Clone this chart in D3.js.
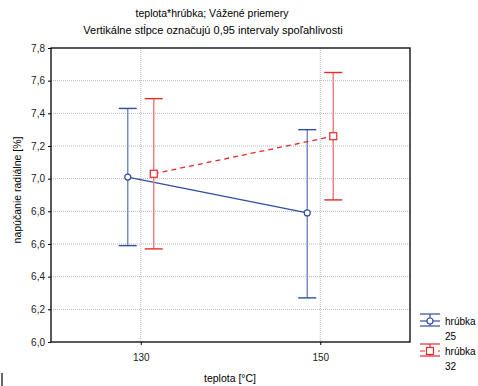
<!DOCTYPE html>
<html>
<head>
<meta charset="utf-8">
<script src="https://cdn.jsdelivr.net/npm/d3@7"></script>
<style>
  body { margin: 0; background: #fff; }
  svg { display: block; font-family: "Liberation Sans", Arial, sans-serif; }
</style>
</head>
<body>
<div id="chart"></div>
<script>
const categories = ['130', '150'];
const yTicks = [6.0, 6.2, 6.4, 6.6, 6.8, 7.0, 7.2, 7.4, 7.6, 7.8];
const series = ['25', '32'];
const mean25 = [7.01, 6.79];
const lower25 = [6.59, 6.27];
const upper25 = [7.43, 7.30];
const mean32 = [7.03, 7.26];
const lower32 = [6.57, 6.87];
const upper32 = [7.49, 7.65];

const width = 478, height = 386;
const margin = { top: 48, right: 68, bottom: 44, left: 51 };

const svg = d3.select('#chart').append('svg')
  .attr('width', width)
  .attr('height', height);

const x = d3.scalePoint().domain(categories)
  .range([margin.left, width - margin.right]).padding(0.5);
const y = d3.scaleLinear().domain([6.0, 7.8])
  .range([height - margin.bottom, margin.top]);
const offset = d3.scaleOrdinal().domain(series).range([-13, 13]);
const color = d3.scaleOrdinal().domain(series).range(['#2f4f9f', '#e8282a']);
const barColor = d3.scaleOrdinal().domain(series).range(['#6f86bf', '#f07a7a']);

// titles
svg.append('text').attr('x', 212).attr('y', 17).attr('text-anchor', 'middle')
  .attr('font-size', 10.5).text('teplota*hrúbka; Vážené priemery');
svg.append('text').attr('x', 213).attr('y', 34).attr('text-anchor', 'middle')
  .attr('font-size', 11).text('Vertikálne stĺpce označujú 0,95 intervaly spoľahlivosti');

// grid
svg.append('g').selectAll('line').data(yTicks.slice(1, -1)).join('line')
  .attr('x1', margin.left).attr('x2', width - margin.right)
  .attr('y1', d => y(d)).attr('y2', d => y(d))
  .attr('stroke', '#b8b8b8').attr('stroke-dasharray', '1,1');
svg.append('g').selectAll('line').data(categories).join('line')
  .attr('x1', d => x(d)).attr('x2', d => x(d))
  .attr('y1', margin.top).attr('y2', height - margin.bottom)
  .attr('stroke', '#b8b8b8').attr('stroke-dasharray', '1,1');

// frame
svg.append('rect')
  .attr('x', margin.left).attr('y', margin.top)
  .attr('width', width - margin.left - margin.right)
  .attr('height', height - margin.top - margin.bottom)
  .attr('fill', 'none').attr('stroke', '#000').attr('stroke-width', 1.3);

// axes
const yAxis = svg.append('g').attr('transform', `translate(${margin.left},0)`)
  .call(d3.axisLeft(y).tickValues(yTicks).tickSize(3)
    .tickFormat(d => d3.format('.1f')(d).replace('.', ',')));
yAxis.select('.domain').remove();
yAxis.selectAll('text').attr('font-size', 10).attr('fill', '#222')
  .attr('font-family', '"Liberation Sans", Arial, sans-serif');

const xAxis = svg.append('g').attr('transform', `translate(0,${height - margin.bottom})`)
  .call(d3.axisBottom(x).tickSize(3).tickPadding(9));
xAxis.select('.domain').remove();
xAxis.selectAll('text').attr('font-size', 10).attr('fill', '#222')
  .attr('font-family', '"Liberation Sans", Arial, sans-serif');

svg.append('text').attr('x', 230).attr('y', 382).attr('text-anchor', 'middle')
  .attr('font-size', 10.5).text('teplota [°C]');
svg.append('text').attr('transform', 'translate(21,190) rotate(-90)')
  .attr('text-anchor', 'middle').attr('font-size', 10.5)
  .text('napúčanie radiálne [%]');

// series
const data = [
  { key: '25', mean: mean25, lo: lower25, hi: upper25, dash: null, shape: 'circle' },
  { key: '32', mean: mean32, lo: lower32, hi: upper32, dash: '5,4', shape: 'square' }
];

data.forEach(s => {
  const g = svg.append('g');
  const px = i => x(categories[i]) + offset(s.key);
  categories.forEach((c, i) => {
    g.append('line').attr('x1', px(i)).attr('x2', px(i))
      .attr('y1', y(s.lo[i])).attr('y2', y(s.hi[i]))
      .attr('stroke', barColor(s.key)).attr('stroke-width', 1.4);
    [s.lo[i], s.hi[i]].forEach(v => {
      g.append('line').attr('x1', px(i) - 9).attr('x2', px(i) + 9)
        .attr('y1', y(v)).attr('y2', y(v))
        .attr('stroke', color(s.key)).attr('stroke-width', 1.4);
    });
  });
  const line = d3.line().x((d, i) => px(i)).y(d => y(d));
  g.append('path').datum(s.mean).attr('d', line)
    .attr('fill', 'none').attr('stroke', color(s.key)).attr('stroke-width', 1.3)
    .attr('stroke-dasharray', s.dash);
  s.mean.forEach((v, i) => {
    if (s.shape === 'circle') {
      g.append('circle').attr('cx', px(i)).attr('cy', y(v)).attr('r', 3)
        .attr('fill', '#fff').attr('stroke', color(s.key)).attr('stroke-width', 1.2);
    } else {
      g.append('rect').attr('x', px(i) - 3.5).attr('y', y(v) - 3.5)
        .attr('width', 7).attr('height', 7)
        .attr('fill', '#fff').attr('stroke', color(s.key)).attr('stroke-width', 1.2);
    }
  });
});

// legend
const legendY = [321, 351];
data.forEach((s, i) => {
  const ly = legendY[i];
  const g = svg.append('g');
  const c = color(s.key);
  g.append('line').attr('x1', 420).attr('x2', 440).attr('y1', ly - 7).attr('y2', ly - 7)
    .attr('stroke', c).attr('stroke-width', 1.2);
  g.append('line').attr('x1', 420).attr('x2', 440).attr('y1', ly + 5).attr('y2', ly + 5)
    .attr('stroke', c).attr('stroke-width', 1.2);
  g.append('line').attr('x1', 430).attr('x2', 430).attr('y1', ly - 7).attr('y2', ly + 5)
    .attr('stroke', c).attr('stroke-width', 1.2);
  g.append('line').attr('x1', 420).attr('x2', 440).attr('y1', ly).attr('y2', ly)
    .attr('stroke', c).attr('stroke-width', 1.2).attr('stroke-dasharray', s.dash);
  if (s.shape === 'circle') {
    g.append('circle').attr('cx', 430).attr('cy', ly).attr('r', 3)
      .attr('fill', '#fff').attr('stroke', c).attr('stroke-width', 1.2);
  } else {
    g.append('rect').attr('x', 426.5).attr('y', ly - 3.5).attr('width', 7).attr('height', 7)
      .attr('fill', '#fff').attr('stroke', c).attr('stroke-width', 1.2);
  }
  g.append('text').attr('x', 445).attr('y', ly + 4).attr('font-size', 10).text('hrúbka');
  g.append('text').attr('x', 445).attr('y', ly + 19).attr('font-size', 10).text(s.key);
});

// small edge mark at bottom left
svg.append('line').attr('x1', 2).attr('x2', 2).attr('y1', 373).attr('y2', 386)
  .attr('stroke', '#333').attr('stroke-width', 1.5);
</script>
</body>
</html>
